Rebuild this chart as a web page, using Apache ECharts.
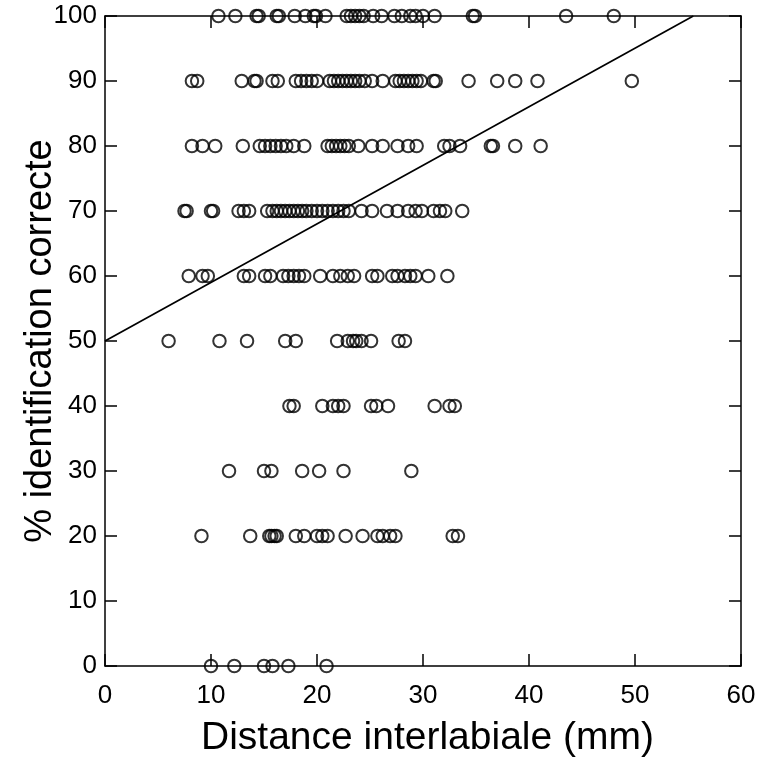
<!DOCTYPE html>
<html>
<head>
<meta charset="utf-8">
<script src="https://cdn.jsdelivr.net/npm/echarts@6/dist/echarts.min.js"></script>
<style>
html,body{margin:0;padding:0;background:#fff;}
#c{width:758px;height:757px;}
</style>
</head>
<body>
<div id="c"></div>
<script>
// Distance interlabiale (mm) of each observation, grouped by % correct identification
const x100 = [10.7, 12.3, 14.3, 14.5, 16.2, 16.4, 17.9, 18.9, 19.7, 19.9, 20.8, 22.8, 23.2, 23.6, 24.0, 24.4, 25.3, 26.1, 27.3, 28.0, 28.8, 29.3, 30.0, 31.1, 34.7, 34.9, 43.5, 48.0];
const x90 = [8.2, 8.7, 12.9, 14.1, 14.3, 15.8, 16.3, 18.0, 18.5, 19.0, 19.5, 20.0, 21.2, 21.6, 22.0, 22.4, 22.8, 23.2, 23.6, 24.0, 24.5, 25.2, 26.2, 27.4, 27.8, 28.2, 28.6, 29.0, 29.4, 29.8, 31.0, 31.2, 34.3, 37.0, 38.7, 40.8, 49.7];
const x80 = [8.2, 9.2, 10.4, 13.0, 14.6, 15.1, 15.6, 16.1, 16.6, 17.1, 17.8, 18.8, 21.0, 21.4, 21.8, 22.2, 22.6, 23.0, 23.9, 25.2, 26.2, 27.6, 28.6, 29.4, 32.0, 32.5, 33.5, 36.4, 36.6, 38.7, 41.1];
const x70 = [7.5, 7.7, 10.0, 10.2, 12.6, 13.1, 13.6, 15.3, 15.8, 16.2, 16.6, 17.0, 17.4, 17.8, 18.2, 18.6, 19.0, 19.5, 20.0, 20.5, 21.0, 21.5, 22.0, 22.5, 23.0, 24.2, 25.2, 26.6, 27.6, 28.6, 29.3, 29.9, 31.0, 31.6, 32.1, 33.7];
const x60 = [7.9, 9.2, 9.7, 13.1, 13.6, 15.1, 15.6, 16.8, 17.3, 17.8, 18.3, 18.8, 20.3, 21.5, 22.2, 22.9, 23.5, 25.2, 25.7, 27.1, 27.6, 28.3, 28.8, 29.3, 30.5, 32.3];
const x50 = [6.0, 10.8, 13.4, 17.0, 18.0, 21.9, 22.9, 23.4, 23.7, 24.2, 25.1, 27.7, 28.3];
const x40 = [17.4, 17.8, 20.5, 21.5, 22.0, 22.5, 25.1, 25.6, 26.7, 31.1, 32.5, 33.0];
const x30 = [11.7, 15.0, 15.7, 18.6, 20.2, 22.5, 28.9];
const x20 = [9.1, 13.7, 15.5, 15.7, 16.0, 16.2, 18.0, 18.8, 20.0, 20.5, 21.0, 22.7, 24.3, 25.7, 26.2, 26.9, 27.4, 32.8, 33.3];
const x0 = [10.0, 12.2, 15.0, 15.8, 17.3, 20.9];
const levels = [100, 90, 80, 70, 60, 50, 40, 30, 20, 0];
const rows = [x100, x90, x80, x70, x60, x50, x40, x30, x20, x0];
// regression line end points (x, y)
const fitLine = [[0, 50], [55.5, 100]];
const xTicks = [0, 10, 20, 30, 40, 50, 60];
const yTicks = [0, 10, 20, 30, 40, 50, 60, 70, 80, 90, 100];

const points = [];
rows.forEach((r, i) => r.forEach(x => points.push([x, levels[i]])));

const FONT = '"Liberation Sans", Arial, sans-serif';
const chart = echarts.init(document.getElementById('c'), null, {renderer: 'canvas'});
const axisLine = {show: true, onZero: false, lineStyle: {color: '#000', width: 1.5}};
const tickIn = {show: true, inside: true, length: 12, lineStyle: {color: '#000', width: 1.5}};
chart.setOption({
  animation: false,
  backgroundColor: '#fff',
  grid: {left: 105, top: 16, right: 17, bottom: 91, containLabel: false, outerBoundsMode: 'none'},
  xAxis: [{
    type: 'value', min: 0, max: 60, interval: 10, position: 'bottom',
    axisLine: axisLine, axisTick: tickIn, splitLine: {show: false},
    axisLabel: {color: '#000', fontFamily: FONT, fontSize: 26, margin: 17},
    name: 'Distance interlabiale (mm)', nameLocation: 'middle', nameGap: 53, nameMoveOverlap: false,
    nameTextStyle: {color: '#000', fontFamily: FONT, fontSize: 39, verticalAlign: 'top', padding: [0, 0, 0, 9]}
  }, {
    type: 'value', min: 0, max: 60, interval: 10, position: 'top',
    axisLine: axisLine, axisTick: tickIn, splitLine: {show: false}, axisLabel: {show: false}
  }],
  yAxis: [{
    type: 'value', min: 0, max: 100, interval: 10, position: 'left',
    axisLine: axisLine, axisTick: tickIn, splitLine: {show: false},
    axisLabel: {color: '#000', fontFamily: FONT, fontSize: 26, margin: 8},
    name: '% identification correcte', nameLocation: 'middle', nameGap: 45, nameMoveOverlap: false,
    nameTextStyle: {color: '#000', fontFamily: FONT, fontSize: 38}
  }, {
    type: 'value', min: 0, max: 100, interval: 10, position: 'right',
    axisLine: axisLine, axisTick: tickIn, splitLine: {show: false}, axisLabel: {show: false}
  }],
  series: [{
    type: 'scatter', xAxisIndex: 0, yAxisIndex: 0, data: points,
    symbol: 'circle', symbolSize: 12.5,
    itemStyle: {color: 'rgba(255,255,255,0)', borderColor: '#000', borderWidth: 2},
    z: 3
  }, {
    type: 'line', xAxisIndex: 0, yAxisIndex: 0, data: fitLine,
    symbol: 'none', lineStyle: {color: '#000', width: 1.7}, z: 2
  }]
});
</script>
</body>
</html>
